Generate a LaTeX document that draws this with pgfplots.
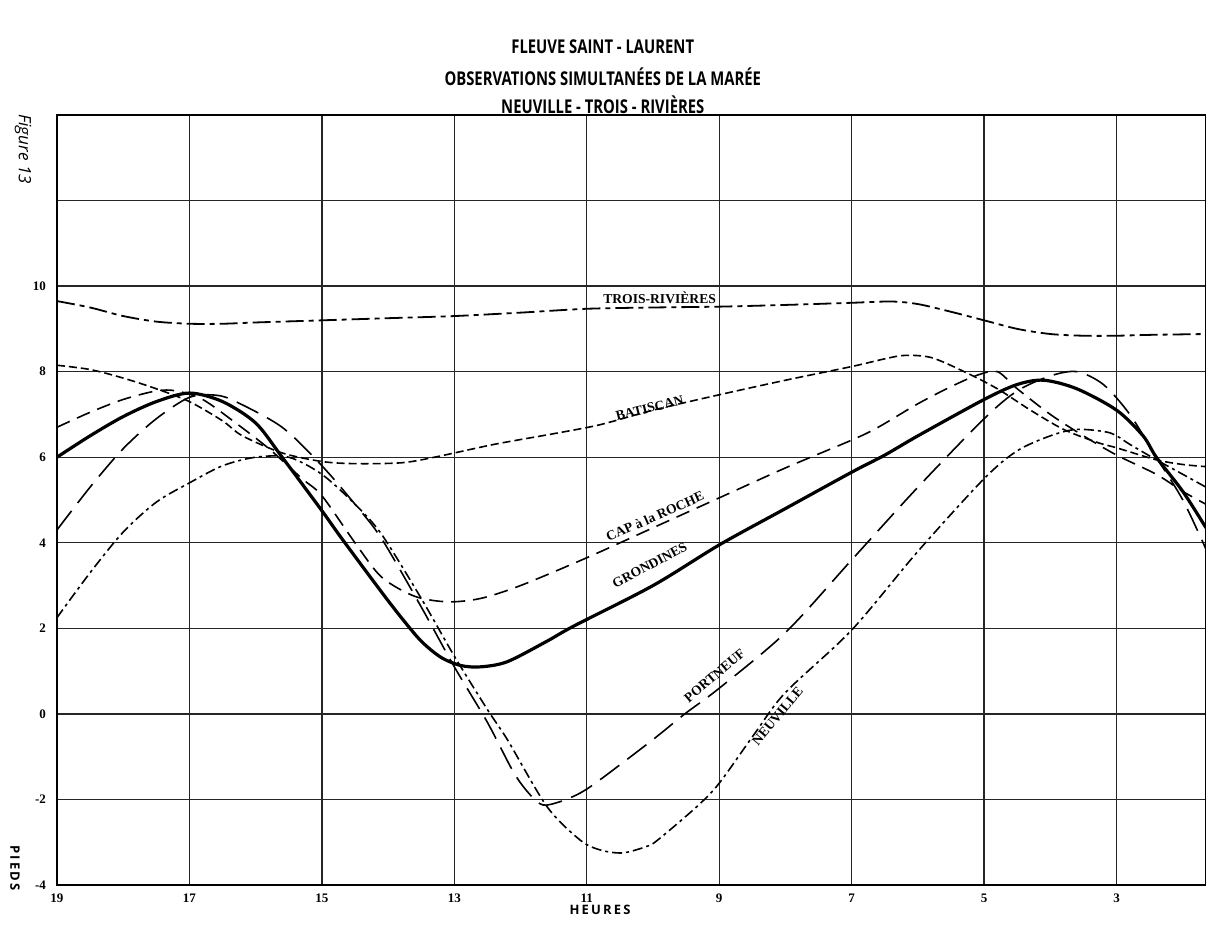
\documentclass[border=0pt]{standalone}
\usepackage{fontspec}
\usepackage{graphicx}
\usepackage{pgfplots}
\usepackage{pgfplotstable}
\pgfplotsset{compat=1.18}
\setmainfont{Liberation Serif}
\newfontfamily\titlefont{Open Sans}

\pgfplotstableread{
x y
19 9.65
18.5 9.5
18 9.3
17.5 9.17
17 9.12
16.5 9.12
16 9.15
15 9.2
14 9.25
13 9.3
12 9.38
11 9.47
10 9.5
9 9.52
8 9.56
7 9.61
6.4 9.64
6 9.58
5.5 9.4
5 9.2
4.5 9.0
4 8.88
3.5 8.84
3 8.84
2.5 8.86
1.65 8.88
}\troisrivieres

\pgfplotstableread{
x y
19 8.15
18.5 8.05
18 7.85
17.5 7.6
17 7.3
16.5 6.85
16.2 6.5
15.6 6.1
15 5.9
14.5 5.85
13.8 5.87
13.3 6.0
12.4 6.3
11.5 6.55
10.8 6.76
10 7.1
9 7.46
8 7.8
7 8.12
6.5 8.3
6.2 8.38
5.8 8.33
5.3 8.0
4.8 7.6
4.3 7.1
3.8 6.65
3.3 6.35
3 6.22
2.4 5.94
2 5.83
1.65 5.78
}\batiscan

\pgfplotstableread{
x y
19 6.7
18.5 7.05
18 7.35
17.5 7.55
17.2 7.55
16.8 7.35
16.3 6.8
15.8 6.2
15.3 5.5
15 5.1
14.5 4.0
14.1 3.2
13.6 2.75
13.1 2.62
12.6 2.7
12 3.0
11 3.65
10 4.35
9 5.05
8 5.75
7 6.4
6.6 6.7
6 7.25
5.5 7.65
5.1 7.92
4.8 8.0
4.5 7.6
4 7.0
3.5 6.5
3 6.05
2.4 5.6
2 5.2
1.65 4.9
}\caproche

\pgfplotstableread{
x y
19 6.0
18.5 6.5
18 6.95
17.5 7.3
17 7.5
16.5 7.3
16 6.8
15.6 6.0
15 4.75
14.7 4.1
14.1 2.85
13.8 2.25
13.5 1.7
13.2 1.32
12.9 1.13
12.6 1.1
12.2 1.22
11.6 1.7
11.2 2.05
10 3.0
9 3.95
8 4.8
7 5.65
6.5 6.05
6 6.5
5 7.35
4.5 7.7
4.1 7.8
3.6 7.6
3 7.1
2.6 6.5
2.4 6.0
2 5.2
1.65 4.35
}\grondines

\pgfplotstableread{
x y
19 4.3
18.5 5.3
18 6.2
17.5 6.9
17 7.4
16.6 7.45
16.3 7.3
15.6 6.7
15 5.8
14.5 4.9
14.1 4.1
13.5 2.5
13 1.1
12.5 -0.2
12.1 -1.38
11.85 -1.9
11.66 -2.13
11.4 -2.05
11.1 -1.85
10.8 -1.54
10 -0.6
9.52 0.0
9 0.6
8 1.9
7 3.6
6 5.3
5 6.9
4.5 7.55
4 7.9
3.6 8.0
3.2 7.7
2.8 7.0
2.4 6.0
2 5.0
1.65 3.85
}\portneuf

\pgfplotstableread{
x y
19 2.25
18.5 3.3
18 4.25
17.5 4.95
17 5.4
16.5 5.8
16 6.0
15.5 6.0
15 5.6
14.5 4.9
14.1 4.2
13.5 2.7
13 1.35
12.5 0.1
12.2 -0.6
11.6 -2.17
11.1 -2.95
10.8 -3.18
10.46 -3.25
10.1 -3.1
9.93 -2.95
9.34 -2.17
9 -1.62
8.46 -0.45
8 0.5
7 1.96
6 3.8
5 5.5
4.5 6.15
4 6.5
3.6 6.65
3.1 6.57
2.8 6.3
2.4 5.94
2 5.6
1.65 5.3
}\neuville

\begin{document}
\begin{tikzpicture}
\begin{axis}[name=ax, scale only axis, width=574.5pt, height=385pt,
  x dir=reverse, xmin=1.65, xmax=19, ymin=-4, ymax=14,
  xtick={3,5,7,9,11,13,15,17,19},
  xticklabels={3,5,7,9,11,13,15,17,19},
  ytick={-4,-2,0,2,4,6,8,10,12,14},
  yticklabels={-4,-2,0,2,4,6,8,10,{},{}},
  tick label style={font=\fontsize{6.5}{7}\selectfont\bfseries},
  major tick length=0pt,
  xticklabel style={yshift=-1pt},
  yticklabel style={xshift=-2pt},
  grid=major,
  grid style={black!85, line width=0.7pt},
  axis line style={black, line width=1.3pt},
  clip=false,
  smooth, tension=0.5]

\addplot[black, line width=0.9pt, dash pattern=on 9pt off 2.5pt on 2.5pt off 2.5pt] table {\troisrivieres};
\addplot[black, line width=0.8pt, dash pattern=on 4pt off 2pt] table {\batiscan};
\addplot[black, line width=0.8pt, dash pattern=on 7pt off 4pt] table {\caproche};
\addplot[black, line width=1.6pt] table {\grondines};
\addplot[black, line width=0.8pt, dash pattern=on 12pt off 5pt] table {\portneuf};
\addplot[black, line width=0.8pt, dash pattern=on 5pt off 2pt on 1.5pt off 2pt] table {\neuville};

\begin{scope}[every node/.style={font=\fontsize{6.8}{7}\selectfont\bfseries, inner sep=0pt}]
\node at (axis cs:9.9,9.73) {TROIS-RIVIÈRES};
\node[rotate=14] at (axis cs:10.05,7.15) {BATISCAN};
\node[rotate=24] at (axis cs:9.97,4.62) {CAP à la ROCHE};
\node[rotate=28] at (axis cs:10.05,3.48) {GRONDINES};
\node[rotate=40] at (axis cs:9.07,0.89) {PORTNEUF};
\node[rotate=50] at (axis cs:8.12,-0.05) {NEUVILLE};
\end{scope}

\node[font=\titlefont\bfseries\fontsize{9.5}{10}\selectfont] at (rel axis cs:0.475,1.0883) {\scalebox{0.78}[1]{FLEUVE SAINT - LAURENT}};
\node[font=\titlefont\bfseries\fontsize{9.5}{10}\selectfont] at (rel axis cs:0.475,1.0494) {\scalebox{0.78}[1]{OBSERVATIONS SIMULTANÉES DE LA MARÉE}};
\node[font=\titlefont\bfseries\fontsize{9.5}{10}\selectfont] at (rel axis cs:0.475,1.013) {\scalebox{0.78}[1]{NEUVILLE - TROIS - RIVIÈRES}};
\node[font=\titlefont\itshape\fontsize{8.5}{9}\selectfont, rotate=-90] at ([xshift=-17pt]axis cs:19,13.2) {Figure 13};
\node[font=\titlefont\bfseries\fontsize{6.5}{7}\selectfont, rotate=-90] at ([xshift=-21pt]axis cs:19,-3.6) {P\,I\,E\,D\,S};
\node[font=\titlefont\bfseries\fontsize{6.5}{7}\selectfont] at ([yshift=-12.5pt]axis cs:10.8,-4) {H\,E\,U\,R\,E\,S};
\end{axis}
\pgfresetboundingbox
\path[use as bounding box] ([shift={(-28.5pt,-21.5pt)}]ax.south west) rectangle ([shift={(0pt,57.5pt)}]ax.north east);
\end{tikzpicture}
\end{document}
